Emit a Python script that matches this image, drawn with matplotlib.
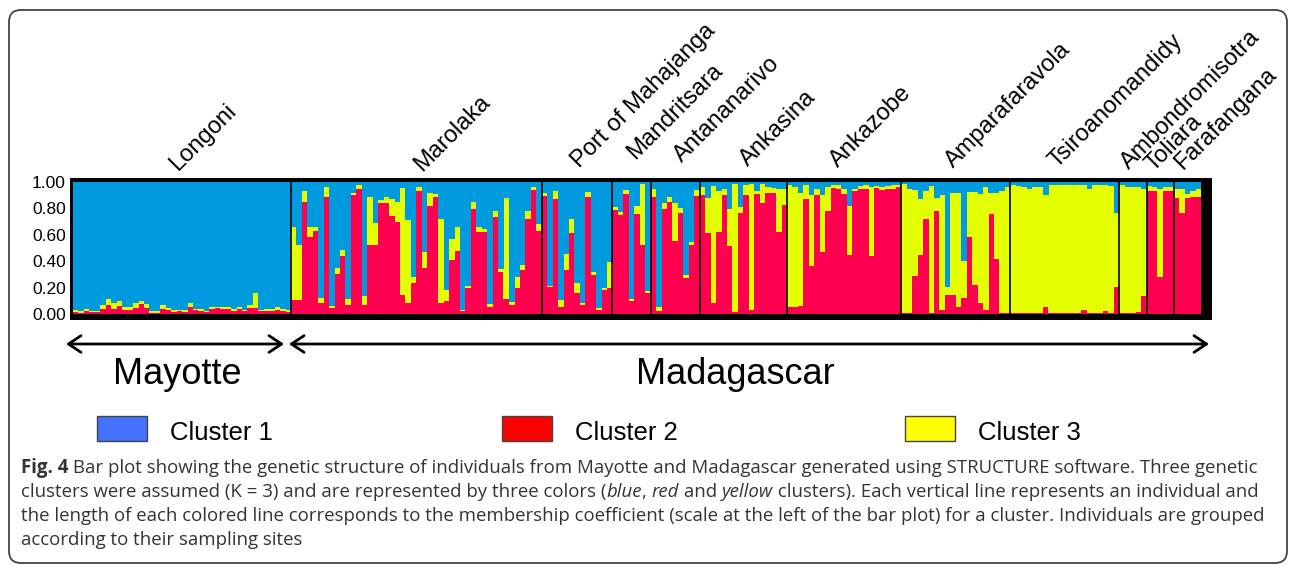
import matplotlib
matplotlib.use("Agg")
import matplotlib.pyplot as plt
from matplotlib.patches import FancyBboxPatch, FancyArrowPatch, Rectangle
from matplotlib.transforms import IdentityTransform
import numpy as np

W, H = 1290, 565

# membership coefficients per individual: red = cluster 2, yellow = cluster 3
# (blue = cluster 1 is the rest)
sites = ["Longoni", "Marolaka", "Port of Mahajanga", "Mandritsara", "Antananarivo",
         "Ankasina", "Ankazobe", "Amparafaravola", "Tsiroanomandidy",
         "Ambondromisotra", "Toliara", "Farafangana"]

longoni_red = [0.015, 0.010, 0.020, 0.015, 0.015, 0.035, 0.070, 0.040, 0.058, 0.030,
               0.030, 0.045, 0.075, 0.048, 0.010, 0.010, 0.035, 0.030, 0.015, 0.020,
               0.015, 0.055, 0.030, 0.025, 0.015, 0.040, 0.045, 0.040, 0.040, 0.025,
               0.035, 0.020, 0.045, 0.045, 0.020, 0.020, 0.025, 0.030, 0.020, 0.015]
longoni_yel = [0.013, 0.010, 0.018, 0.010, 0.008, 0.033, 0.045, 0.045, 0.040, 0.020,
               0.020, 0.038, 0.023, 0.030, 0.010, 0.010, 0.030, 0.015, 0.013, 0.010,
               0.013, 0.025, 0.010, 0.013, 0.010, 0.015, 0.010, 0.010, 0.015, 0.013,
               0.020, 0.013, 0.023, 0.116, 0.010, 0.015, 0.015, 0.020, 0.020, 0.015]

marolaka_red = [0.106, 0.106, 0.848, 0.581, 0.629, 0.081, 0.889, 0.048, 0.306, 0.439,
                0.071, 0.899, 0.949, 0.071, 0.520, 0.520, 0.838, 0.838, 0.745, 0.699,
                0.141, 0.086, 0.237, 0.934, 0.348, 0.818, 0.889, 0.081, 0.101, 0.409,
                0.480, 0.020, 0.194, 0.798, 0.621, 0.621, 0.051, 0.732, 0.321, 0.116,
                0.068, 0.194, 0.333, 0.717, 0.939, 0.629]
marolaka_yel = [0.551, 0.414, 0.081, 0.076, 0.028, 0.040, 0.071, 0.013, 0.040, 0.046,
                0.040, 0.015, 0.028, 0.063, 0.364, 0.172, 0.023, 0.051, 0.126, 0.152,
                0.814, 0.624, 0.041, 0.031, 0.124, 0.101, 0.020, 0.636, 0.081, 0.157,
                0.182, 0.010, 0.018, 0.050, 0.036, 0.025, 0.025, 0.051, 0.022, 0.765,
                0.023, 0.084, 0.038, 0.066, 0.021, 0.053]

mahajanga_red = [0.894, 0.202, 0.869, 0.051, 0.333, 0.616, 0.157, 0.068, 0.889, 0.293,
                 0.030, 0.182, 0.194]
mahajanga_yel = [0.020, 0.013, 0.065, 0.055, 0.122, 0.101, 0.075, 0.013, 0.035, 0.025,
                 0.015, 0.012, 0.200]

mandritsara_red = [0.788, 0.753, 0.909, 0.101, 0.758, 0.525, 0.157]
mandritsara_yel = [0.025, 0.020, 0.030, 0.015, 0.060, 0.460, 0.015]

antananarivo_red = [0.884, 0.020, 0.798, 0.848, 0.551, 0.768, 0.273, 0.520, 0.894]
antananarivo_yel = [0.065, 0.031, 0.040, 0.036, 0.292, 0.035, 0.020, 0.025, 0.045]

ankasina_red = [0.904, 0.616, 0.086, 0.621, 0.904, 0.515, 0.015, 0.763, 0.899, 0.030,
                0.909, 0.843, 0.919, 0.914, 0.621, 0.823]
ankasina_yel = [0.061, 0.263, 0.884, 0.308, 0.045, 0.283, 0.970, 0.045, 0.076, 0.955,
                0.025, 0.142, 0.041, 0.038, 0.328, 0.126]

ankazobe_red = [0.056, 0.056, 0.061, 0.874, 0.364, 0.899, 0.470, 0.783, 0.955, 0.949,
                0.909, 0.444, 0.934, 0.949, 0.949, 0.439, 0.955, 0.939, 0.944, 0.949,
                0.965]
ankazobe_yel = [0.921, 0.904, 0.853, 0.106, 0.540, 0.050, 0.429, 0.182, 0.020, 0.026,
                0.040, 0.374, 0.015, 0.021, 0.026, 0.526, 0.015, 0.026, 0.026, 0.026,
                0.015]

amparafaravola_red = [0.010, 0.010, 0.288, 0.444, 0.722, 0.010, 0.783, 0.030, 0.146, 0.146,
                      0.055, 0.120, 0.586, 0.222, 0.080, 0.030, 0.757, 0.418, 0.010, 0.010]
amparafaravola_yel = [0.975, 0.940, 0.650, 0.430, 0.212, 0.960, 0.096, 0.870, 0.060, 0.770,
                      0.860, 0.280, 0.340, 0.700, 0.830, 0.930, 0.160, 0.500, 0.920, 0.955]

tsiroanomandidy_red = [0.010, 0.010, 0.010, 0.010, 0.010, 0.010, 0.056, 0.010, 0.010, 0.010,
                       0.010, 0.010, 0.010, 0.030, 0.010, 0.010, 0.010, 0.020, 0.010, 0.207]
tsiroanomandidy_yel = [0.965, 0.960, 0.955, 0.939, 0.955, 0.955, 0.848, 0.965, 0.970, 0.970,
                       0.970, 0.965, 0.965, 0.945, 0.939, 0.970, 0.970, 0.955, 0.960, 0.561]

ambondromisotra_red = [0.005, 0.010, 0.010, 0.015, 0.136]
ambondromisotra_yel = [0.970, 0.950, 0.950, 0.945, 0.813]

toliara_red = [0.934, 0.929, 0.283, 0.934, 0.929]
toliara_yel = [0.036, 0.036, 0.661, 0.031, 0.031]

farafangana_red = [0.879, 0.768, 0.879, 0.889, 0.884]
farafangana_yel = [0.070, 0.181, 0.030, 0.045, 0.060]

yticks = [0.0, 0.2, 0.4, 0.6, 0.8, 1.0]
legend_labels = ["Cluster 1", "Cluster 2", "Cluster 3"]

reds = [longoni_red, marolaka_red, mahajanga_red, mandritsara_red, antananarivo_red,
        ankasina_red, ankazobe_red, amparafaravola_red, tsiroanomandidy_red,
        ambondromisotra_red, toliara_red, farafangana_red]
yels = [longoni_yel, marolaka_yel, mahajanga_yel, mandritsara_yel, antananarivo_yel,
        ankasina_yel, ankazobe_yel, amparafaravola_yel, tsiroanomandidy_yel,
        ambondromisotra_yel, toliara_yel, farafangana_yel]

BLUE = "#009ADF"
RED = "#FF0050"
YEL = "#E4FF00"


def fx(x):
    return x / W


def fy(y):
    return 1 - y / H


red = np.concatenate(reds)
yel = np.concatenate(yels)
blue = 1 - red - yel
n = len(red)
xs = np.arange(n)
bounds = np.cumsum([len(r) for r in reds])[:-1]

plt.rcParams["font.family"] = ["Liberation Sans", "DejaVu Sans"]
fig = plt.figure(figsize=(W / 100, H / 100), dpi=100)

# plot area: black frame from px 70..1212 / 178..320, data 73..1201 / 182..314
x0, x1, dx0, dx1 = 70, 1212, 73, 1201
y0, y1, dy0, dy1 = 178, 320, 182, 314
ax = fig.add_axes([fx(x0), fy(y1), (x1 - x0) / W, (y1 - y0) / H])
ax.set_facecolor("black")
ppu = (dx1 - dx0) / n
ax.set_xlim(-(dx0 - x0) / ppu, n + (x1 - dx1) / ppu)
ppv = dy1 - dy0
ax.set_ylim(-(y1 - dy1) / ppv, 1 + (dy0 - y0) / ppv)

kw = dict(width=1.02, align="edge", linewidth=0, antialiased=False)
ax.bar(xs, red, color=RED, **kw)
ax.bar(xs, yel, bottom=red, color=YEL, **kw)
ax.bar(xs, blue, bottom=red + yel, color=BLUE, **kw)
ax.vlines(bounds, 0, 1, color="black", lw=1.2)

for s in ax.spines.values():
    s.set_visible(False)
ax.set_xticks([])
ax.set_yticks(yticks)
ax.set_yticklabels([f"{v:.2f}" for v in yticks], fontsize=12.5)
ax.tick_params(axis="y", length=0, pad=3)

# site labels (rotated)
label_xy = [(178, 171), (422, 172), (579, 168), (635, 160), (682, 163), (748, 167),
            (838, 168), (953, 168), (1057, 168), (1129, 170), (1153, 172), (1183, 170)]
for name, (lx, ly) in zip(sites, label_xy):
    fig.text(fx(lx), fy(ly), name, rotation=45, rotation_mode="anchor",
             ha="left", va="baseline", fontsize=17)

# region arrows
for a, b in [(66, 284), (289, 1209)]:
    arr = FancyArrowPatch((a, H - 344), (b, H - 344), transform=IdentityTransform(),
                          arrowstyle="<->,head_length=0.45,head_width=0.3",
                          mutation_scale=20, lw=2, color="black",
                          shrinkA=0, shrinkB=0)
    fig.add_artist(arr)
fig.text(fx(177), fy(384), "Mayotte", ha="center", va="baseline", fontsize=26)
fig.text(fx(735), fy(384), "Madagascar", ha="center", va="baseline", fontsize=26)

# legend
leg_cols = ["#4472FF", "#FF0000", "#FFFF00"]
leg_x = [97, 502, 905]
for lab, c, lx in zip(legend_labels, leg_cols, leg_x):
    fig.add_artist(Rectangle((lx, H - 441), 50, 25, transform=IdentityTransform(),
                             facecolor=c, edgecolor="#444444", lw=1))
    fig.text(fx(lx + 73), fy(440), lab, ha="left", va="baseline", fontsize=18.5)

# caption
cap_lines = [
    [("Fig. 4", "bold", "normal"),
     (" Bar plot showing the genetic structure of individuals from Mayotte and Madagascar "
      "generated using STRUCTURE software. Three genetic", "normal", "normal")],
    [("clusters were assumed (K = 3) and are represented by three colors (", "normal", "normal"),
     ("blue", "normal", "italic"), (", ", "normal", "normal"), ("red", "normal", "italic"),
     (" and ", "normal", "normal"), ("yellow", "normal", "italic"),
     (" clusters). Each vertical line represents an individual and", "normal", "normal")],
    [("the length of each colored line corresponds to the membership coefficient (scale at the "
      "left of the bar plot) for a cluster. Individuals are grouped", "normal", "normal")],
    [("according to their sampling sites", "normal", "normal")],
]
renderer = fig.canvas.get_renderer()
for i, pieces in enumerate(cap_lines):
    xpos = 21
    for txt, wt, st in pieces:
        t = fig.text(fx(xpos), fy(473 + 24 * i), txt, ha="left", va="baseline",
                     fontsize=13.4, family="Open Sans", weight=wt, style=st,
                     color="#333333")
        bb = t.get_window_extent(renderer)
        xpos = bb.x1

# rounded outer frame
fig.add_artist(FancyBboxPatch((9, 2), 1278, 553, boxstyle="round,pad=0,rounding_size=12",
                              transform=IdentityTransform(), fill=False,
                              edgecolor="#444444", lw=1.3))

fig.savefig("out.png", dpi=100)
